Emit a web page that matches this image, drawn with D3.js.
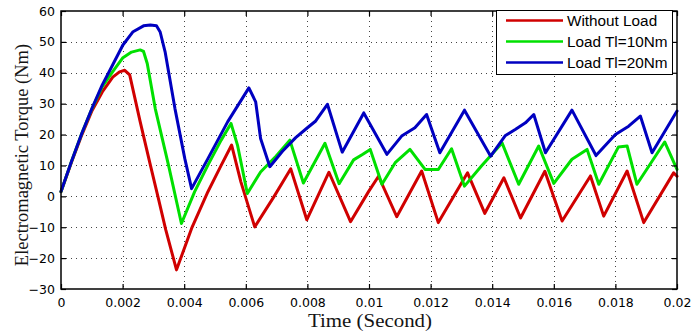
<!DOCTYPE html>
<html>
<head>
<meta charset="utf-8">
<script src="https://cdn.jsdelivr.net/npm/d3@7/dist/d3.min.js"></script>
<style>
  html, body { margin: 0; padding: 0; background: #ffffff; }
  svg { display: block; }
</style>
</head>
<body>
<svg id="chart" width="691" height="336"></svg>
<script>
// Electromagnetic torque of the motor for three load conditions (time in seconds, torque in Nm)
const timeNoLoad = [0, 0.00034, 0.00068, 0.00101, 0.00134, 0.00168, 0.0019, 0.00207, 0.00223, 0.00257, 0.0029, 0.00318, 0.0034, 0.00375,
  0.00424, 0.00477, 0.0052, 0.00554, 0.00584, 0.00629, 0.00692, 0.00746, 0.00798, 0.0087, 0.0094, 0.00999, 0.01031, 0.0109,
  0.01171, 0.01225, 0.0132, 0.01376, 0.01438, 0.01492, 0.01571, 0.01627, 0.01719, 0.01762, 0.01838, 0.01892, 0.01989, 0.02];
const torqueNoLoad = [1.5, 11, 20, 27.8, 33.8, 38.6, 40.3, 40.8, 39.3, 24.2, 10.2, -1.5, -10.8, -23.8,
  -10.4, 1.5, 10, 16.6, 4.7, -9.9, 0, 8.9, -7.6, 7.8, -8.2, 1.6, 6.5, -6.6,
  8.2, -8.5, 7.6, -5.5, 6, -7, 8.1, -8, 6.6, -6.4, 8.2, -8.5, 7.6, 6.5];

const timeLoad10 = [0, 0.00034, 0.00068, 0.00101, 0.00134, 0.00168, 0.00201, 0.00229, 0.00257, 0.00268, 0.0028, 0.00306, 0.00349, 0.00391,
  0.00434, 0.00477, 0.0052, 0.00552, 0.00573, 0.00605, 0.00648, 0.00698, 0.00743, 0.00787, 0.00857, 0.00903, 0.0095, 0.0098,
  0.01004, 0.01042, 0.01085, 0.01133, 0.01182, 0.01225, 0.01268, 0.0131, 0.01365, 0.01432, 0.01486, 0.01551, 0.016, 0.01659,
  0.01708, 0.01746, 0.0181, 0.01838, 0.0187, 0.0196, 0.02];
const torqueLoad10 = [1.5, 11.3, 20.5, 28.5, 35.5, 40.4, 44.9, 46.7, 47.4, 46.9, 43, 28.4, 10.1, -8.8,
  1.5, 10.1, 18.2, 23.6, 16.6, 0.9, 7.9, 13, 18.2, 4.3, 17.2, 4.1, 11.8, 13.6,
  15.2, 3.9, 10.9, 15.2, 8.7, 8.7, 15.4, 3.3, 9.8, 17.3, 3.9, 16.3, 4.2, 12,
  15.2, 3.9, 16, 16.3, 3.9, 17.6, 8.7];

const timeLoad20 = [0, 0.00034, 0.00068, 0.00101, 0.00134, 0.00168, 0.00201, 0.00234, 0.00268, 0.0029, 0.0031, 0.00322, 0.00338, 0.0037,
  0.00402, 0.00424, 0.00477, 0.00541, 0.0061, 0.00632, 0.00648, 0.00678, 0.00719, 0.00762, 0.008, 0.00827, 0.00865, 0.00913,
  0.00983, 0.01058, 0.01106, 0.01149, 0.01187, 0.0123, 0.0131, 0.01395, 0.01443, 0.01476, 0.01508, 0.01535, 0.01573, 0.01659,
  0.01737, 0.018, 0.01843, 0.01881, 0.01919, 0.02];
const torqueLoad20 = [1.6, 11.3, 20.5, 28.6, 36.1, 42.6, 49, 53.3, 55.2, 55.5, 55.2, 53.2, 46.8, 28.4,
  12.2, 2.5, 12.2, 24.1, 35.1, 30.6, 18.7, 9.6, 14.6, 19, 22.2, 24.4, 29.8, 14.3,
  27, 13.6, 19.5, 22.2, 26.5, 14.1, 27.9, 13, 19.7, 21.7, 23.8, 26.5, 14.1, 27.9,
  13.2, 20, 22.7, 26, 14.1, 27.6];

const seriesNames = ["Without Load", "Load Tl=10Nm", "Load Tl=20Nm"];
const seriesColors = ["#d00000", "#00e000", "#0000c0"];

const xTickValues = [0, 0.002, 0.004, 0.006, 0.008, 0.01, 0.012, 0.014, 0.016, 0.018, 0.02];
const xTickLabels = ["0", "0.002", "0.004", "0.006", "0.008", "0.01", "0.012", "0.014", "0.016", "0.018", "0.02"];
const yTickValues = [-30, -20, -10, 0, 10, 20, 30, 40, 50, 60];

const xTitle = "Time (Second)";
const yTitle = "Electromagnetic Torque (Nm)";

// ---- layout ----
const plot = { left: 61, right: 677, top: 11, bottom: 289 };
const svg = d3.select("#chart");

const x = d3.scaleLinear().domain([0, 0.02]).range([plot.left, plot.right]);
const y = d3.scaleLinear().domain([-30, 60]).range([plot.bottom, plot.top]);

// dotted grid
const grid = svg.append("g").attr("stroke", "#444").attr("stroke-width", 1)
  .attr("stroke-dasharray", "1,4").attr("shape-rendering", "crispEdges");
grid.selectAll("line.v").data(xTickValues.slice(1, -1)).join("line")
  .attr("x1", d => Math.round(x(d)) + 0.5).attr("x2", d => Math.round(x(d)) + 0.5)
  .attr("y1", plot.top).attr("y2", plot.bottom);
grid.selectAll("line.h").data(yTickValues.slice(1, -1)).join("line")
  .attr("x1", plot.left).attr("x2", plot.right)
  .attr("y1", d => Math.round(y(d)) + 0.5).attr("y2", d => Math.round(y(d)) + 0.5);

// torque curves
const series = [
  { t: timeNoLoad, v: torqueNoLoad },
  { t: timeLoad10, v: torqueLoad10 },
  { t: timeLoad20, v: torqueLoad20 }
];
const line = d3.line().x(d => x(d[0])).y(d => y(d[1]));
svg.append("g").selectAll("path").data(series).join("path")
  .attr("d", s => line(s.t.map((t, i) => [t, s.v[i]])))
  .attr("fill", "none")
  .attr("stroke", (s, i) => seriesColors[i])
  .attr("stroke-width", 3)
  .attr("stroke-linejoin", "round")
  .attr("stroke-linecap", "round");

// axes with inward ticks on all four sides
const tickFont = "DejaVu Sans, sans-serif";
const xAxis = d3.axisBottom(x).tickValues(xTickValues)
  .tickFormat((d, i) => xTickLabels[i]).tickSizeInner(-5).tickSizeOuter(0).tickPadding(9);
const yAxis = d3.axisLeft(y).tickValues(yTickValues)
  .tickFormat(d3.format("d")).tickSizeInner(-5).tickSizeOuter(0).tickPadding(6);

const gx = svg.append("g").attr("transform", `translate(0,${plot.bottom})`).call(xAxis);
const gy = svg.append("g").attr("transform", `translate(${plot.left},0)`).call(yAxis);
const gxTop = svg.append("g").attr("transform", `translate(0,${plot.top})`)
  .call(d3.axisTop(x).tickValues(xTickValues).tickFormat("").tickSizeInner(-5).tickSizeOuter(0));
const gyRight = svg.append("g").attr("transform", `translate(${plot.right},0)`)
  .call(d3.axisRight(y).tickValues(yTickValues).tickFormat("").tickSizeInner(-5).tickSizeOuter(0));

[gx, gy, gxTop, gyRight].forEach(g => {
  g.select(".domain").remove();
  g.selectAll(".tick line").attr("stroke", "#000").attr("stroke-width", 1.2);
  g.selectAll(".tick text").attr("fill", "#000").style("font-family", tickFont).style("font-size", "12.5px");
});

// frame
svg.append("rect")
  .attr("x", plot.left).attr("y", plot.top)
  .attr("width", plot.right - plot.left).attr("height", plot.bottom - plot.top)
  .attr("fill", "none").attr("stroke", "#000").attr("stroke-width", 1.5);

// axis titles
svg.append("text")
  .attr("x", 370).attr("y", 327)
  .attr("text-anchor", "middle")
  .attr("textLength", 124).attr("lengthAdjust", "spacingAndGlyphs")
  .style("font-family", "Liberation Serif, Times New Roman, serif")
  .style("font-size", "19px").attr("fill", "#141414")
  .text(xTitle);

svg.append("text")
  .attr("transform", `translate(28,${(plot.top + plot.bottom) / 2 + 5}) rotate(-90)`)
  .attr("text-anchor", "middle")
  .style("font-family", "Liberation Serif, Times New Roman, serif")
  .style("font-size", "18.5px").attr("fill", "#141414")
  .text(yTitle);

// legend
const legend = svg.append("g");
legend.append("rect")
  .attr("x", 496.5).attr("y", 10.5).attr("width", 176).attr("height", 64)
  .attr("fill", "#fff").attr("stroke", "#000").attr("stroke-width", 1);
const rows = legend.selectAll("g.row").data(seriesNames).join("g")
  .attr("transform", (d, i) => `translate(0,${20.5 + i * 21})`);
rows.append("line")
  .attr("x1", 506).attr("x2", 563).attr("y1", 0).attr("y2", 0)
  .attr("stroke", (d, i) => seriesColors[i]).attr("stroke-width", 2.4);
rows.append("text")
  .attr("x", 567).attr("y", 5.5)
  .style("font-family", "Liberation Sans, Arial, sans-serif")
  .style("font-size", "15.3px").attr("fill", "#000")
  .text(d => d);
</script>
</body>
</html>
